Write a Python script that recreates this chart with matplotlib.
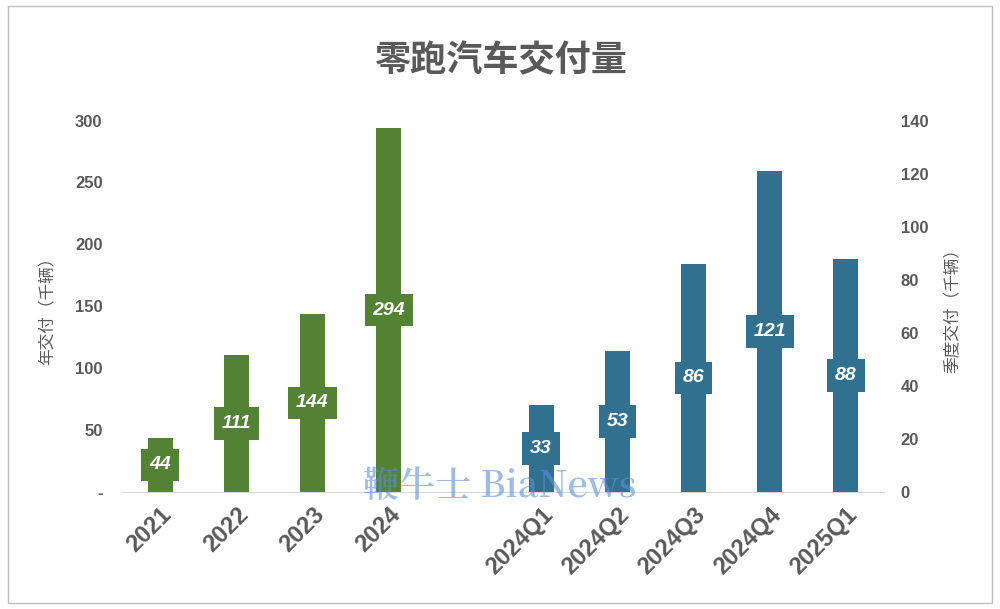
import matplotlib.pyplot as plt
from matplotlib import font_manager as fm
from matplotlib.patches import Rectangle

plt.rcParams["font.family"] = "Liberation Sans"

# 找中文字体文件：黑体用于标题，宋体用于水印
all_fonts = fm.findSystemFonts()
cjk_files = [f for f in all_fonts if "CJK" in f]


def pick(words):
    for f in cjk_files:
        if all(w in f for w in words):
            return f
    return cjk_files[0] if cjk_files else None


sans_bold = pick(["Sans", "Bold"]) or pick(["Sans"])
sans_reg = pick(["Sans", "Regular"]) or sans_bold
serif_bold = pick(["Serif", "Bold"]) or sans_bold


def fp(fname, size):
    return fm.FontProperties(fname=fname, size=size)


# 数据
years = ["2021", "2022", "2023", "2024"]
year_vals = [44, 111, 144, 294]
quarters = ["2024Q1", "2024Q2", "2024Q3", "2024Q4", "2025Q1"]
quarter_vals = [33, 53, 86, 121, 88]

green = "#548235"
blue = "#31708f"
grey = "#595959"

fig = plt.figure(figsize=(10, 6.09), dpi=100)
fig.patches.append(Rectangle((0.008, 0.01), 0.984, 0.98, transform=fig.transFigure,
                             fill=False, ec="#bfbfbf", lw=1))
ax = fig.add_axes([0.122, 0.192, 0.762, 0.61])
ax2 = ax.twinx()

x_year = [0, 1, 2, 3]
x_q = [5, 6, 7, 8, 9]
w = 0.33

ax.bar(x_year, year_vals, width=w, color=green)
ax2.bar(x_q, quarter_vals, width=w, color=blue)

for x, v in zip(x_year, year_vals):
    ax.text(x, v / 2, str(v), ha="center", va="center", color="white", fontsize=14,
            style="italic", fontweight="bold",
            bbox=dict(boxstyle="square,pad=0.4", fc=green, ec="none"))
for x, v in zip(x_q, quarter_vals):
    ax2.text(x, v / 2, str(v), ha="center", va="center", color="white", fontsize=14,
             style="italic", fontweight="bold",
             bbox=dict(boxstyle="square,pad=0.4", fc=blue, ec="none"))

ax.set_xlim(-0.5, 9.5)
ax.set_ylim(0, 300)
ax2.set_ylim(0, 140)

for a in (ax, ax2):
    for s in a.spines.values():
        s.set_visible(False)
    a.tick_params(length=0, colors=grey, labelsize=12)
ax.spines["bottom"].set_visible(True)
ax.spines["bottom"].set_color("#d9d9d9")

ax.set_yticks(range(0, 301, 50))
ax.set_yticklabels(["-"] + [str(v) for v in range(50, 301, 50)], fontweight="bold")
ax2.set_yticks(range(0, 141, 20))
ax2.set_yticklabels([str(v) for v in range(0, 141, 20)], fontweight="bold")
ax.set_xticks(x_year + x_q)
ax.set_xticklabels(years + quarters, rotation=45, ha="right", rotation_mode="anchor",
                   fontsize=17, fontweight="bold", color=grey)
ax.tick_params(axis="y", pad=14)
ax2.tick_params(axis="y", pad=12)
ax.tick_params(axis="x", pad=8)

ax.set_ylabel("年交付（千辆）", color=grey, labelpad=14, fontproperties=fp(sans_reg, 12))
ax2.set_ylabel("季度交付（千辆）", color=grey, labelpad=12, fontproperties=fp(sans_reg, 12))

fig.text(0.5, 0.9, "零跑汽车交付量", ha="center", va="center", color=grey,
         fontproperties=fp(sans_bold, 26))
fig.text(0.5, 0.2, "鞭牛士 BiaNews", ha="center", va="center",
         color="#5b8fd6", alpha=0.6, fontproperties=fp(serif_bold, 26))

fig.savefig("out.png", dpi=100)
